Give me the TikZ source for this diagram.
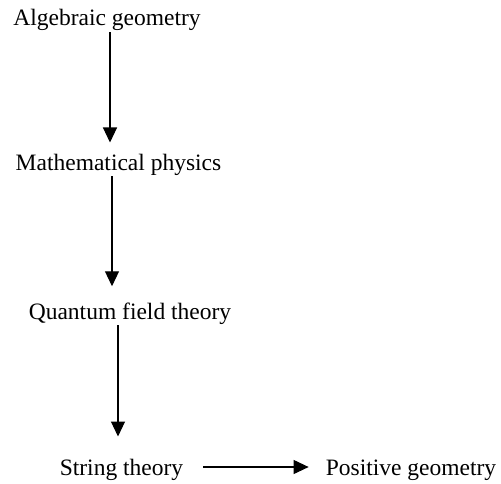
\documentclass[tikz,border=0pt]{standalone}
\usepackage{fontspec}
\setmainfont{Liberation Serif}
\usetikzlibrary{arrows.meta}
\begin{document}
\begin{tikzpicture}[x=1pt,y=-1pt,
  lbl/.style={anchor=base,inner sep=0pt,font=\fontsize{23.5}{28}\selectfont},
  arr/.style={line width=1.1pt,-{Triangle[width=14pt,length=15pt]}}]
\useasboundingbox (0,0) rectangle (501,483);
\node[lbl] (a) at (107,25) {Algebraic geometry};
\node[lbl] (b) at (118.5,170) {Mathematical physics};
\node[lbl] (c) at (130,319) {Quantum field theory};
\node[lbl] (d) at (121.5,475) {String theory};
\node[lbl] (e) at (411,475) {Positive geometry};
\draw[arr,shorten <=2pt,shorten >=11pt] ([xshift=3pt]a.south) -- ([xshift=3pt]a.south |- b.north);
\draw[arr,shorten <=1pt,shorten >=16pt] ([xshift=-6.5pt]b.south) -- ([xshift=-6.5pt]b.south |- c.north);
\draw[arr,shorten <=1pt,shorten >=22pt] ([xshift=-12pt]c.south) -- ([xshift=-12pt]c.south |- d.north);
\draw[arr,shorten <=20pt,shorten >=17pt] ([yshift=8pt]d.base east) -- ([yshift=8pt]d.base east -| e.west);
\end{tikzpicture}
\end{document}
